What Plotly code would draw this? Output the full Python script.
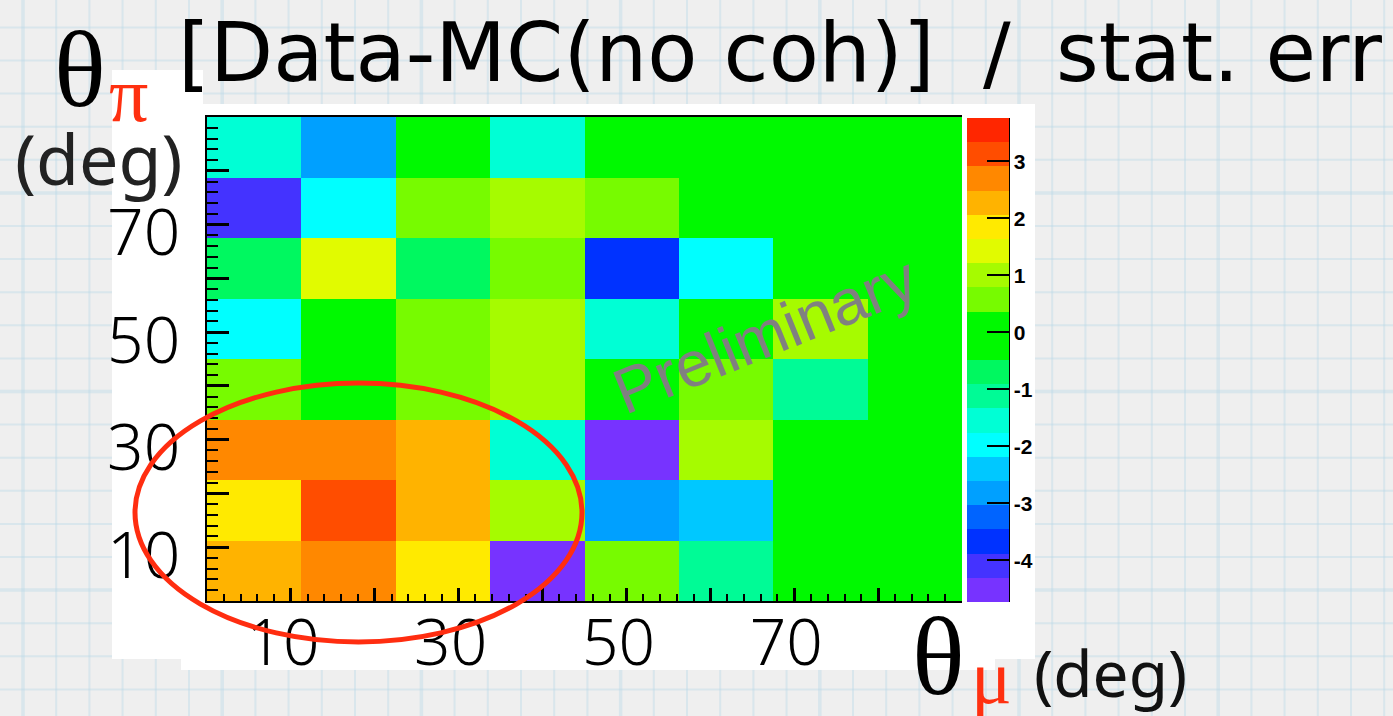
import plotly.graph_objects as go

W, H = 1393, 716

# Bin edges (deg) of the 2D histogram: theta_mu on x, theta_pi on y
theta_mu_edges = [0, 11.25, 22.5, 33.75, 45, 56.25, 67.5, 78.75, 90]
theta_pi_edges = [0, 11.25, 22.5, 33.75, 45, 56.25, 67.5, 78.75, 90]

# [Data - MC(no coh)] / stat. err per bin, one list per theta_pi bin (lowest first)
pull_pi_bin1 = [2.30, 2.70, 1.90, -4.50, 0.60, -1.10, 0.00, 0.00]
pull_pi_bin2 = [1.85, 3.10, 2.25, 1.00, -2.80, -2.40, 0.00, 0.00]
pull_pi_bin3 = [2.70, 2.75, 2.30, -1.50, -4.73, 1.00, 0.00, 0.00]
pull_pi_bin4 = [0.60, -0.20, 0.60, 1.00, 0.20, 0.65, -1.10, 0.00]
pull_pi_bin5 = [-1.90, 0.10, 0.55, 0.95, -1.50, -0.10, 1.05, 0.00]
pull_pi_bin6 = [-0.70, 1.40, -0.65, 0.60, -3.70, -1.95, 0.00, 0.00]
pull_pi_bin7 = [-4.10, -2.00, 0.60, 1.00, 0.55, 0.00, 0.00, 0.00]
pull_pi_bin8 = [-1.50, -2.80, 0.00, -1.55, 0.00, 0.00, 0.00, 0.00]

z_min, z_max = -4.73, 3.76

# 20-level rainbow palette, low to high
palette = [
    "#7733ff", "#4433ff", "#0032ff", "#0064ff", "#00a0ff",
    "#00c8ff", "#00ffff", "#00ffd5", "#00fb96", "#00f860",
    "#00f900", "#00f900", "#77fb00", "#a6fb00", "#e1fb00",
    "#ffea00", "#ffb300", "#ff8800", "#ff4d00", "#ff2600",
]

axis_tickvals = [0, 10, 20, 30, 40, 50, 60, 70, 80, 90]
axis_ticktext = ["", "10", "", "30", "", "50", "", "70", "", ""]
cbar_tickvals = [-4, -3, -2, -1, 0, 1, 2, 3]
cbar_ticktext = ["-4", "-3", "-2", "-1", "0", "1", "2", "3"]

z = [pull_pi_bin1, pull_pi_bin2, pull_pi_bin3, pull_pi_bin4,
     pull_pi_bin5, pull_pi_bin6, pull_pi_bin7, pull_pi_bin8]

# stepped colorscale
n = len(palette)
colorscale = []
for k, c in enumerate(palette):
    colorscale.append([k / n, c])
    colorscale.append([(k + 1) / n, c])


def px(v):
    return v / W


def py(v):
    return 1 - v / H


fig = go.Figure()
fig.add_trace(go.Heatmap(
    x=theta_mu_edges, y=theta_pi_edges, z=z,
    zmin=z_min, zmax=z_max, colorscale=colorscale,
    hoverinfo="skip",
    colorbar=dict(
        x=px(967), xanchor="left", xpad=0, ypad=0,
        y=py(602), yanchor="bottom", len=484, lenmode="pixels",
        thickness=42, thicknessmode="pixels", outlinewidth=0,
        tickvals=cbar_tickvals, ticktext=cbar_ticktext,
        ticks="inside", ticklen=22, tickwidth=2, tickcolor="black",
        tickfont=dict(family="Liberation Sans", size=21, color="black", weight="bold"),
    ),
))

shapes = []
# graph-paper background
grid_col = "rgba(185,218,232,0.42)"
for k in range(0, 42):
    xv = 23 + 33.2 * k
    shapes.append(dict(type="line", xref="paper", yref="paper", layer="below",
                       x0=px(xv), x1=px(xv), y0=0, y1=1,
                       line=dict(color=grid_col, width=3.5 if k % 6 == 0 else 2)))
for k in range(-1, 22):
    yv = 27.4 + 33.1 * k
    shapes.append(dict(type="line", xref="paper", yref="paper", layer="below",
                       x0=0, x1=1, y0=py(yv), y1=py(yv),
                       line=dict(color=grid_col, width=3.5 if k % 6 == 5 else 2)))
# white canvas behind the histogram
for (x0, y0, x1, y1) in [(112, 104, 1035, 659), (181, 659, 995, 670), (112, 70, 203, 104)]:
    shapes.append(dict(type="rect", xref="paper", yref="paper", layer="below",
                       x0=px(x0), x1=px(x1), y0=py(y1), y1=py(y0),
                       fillcolor="white", line=dict(width=0)))
# palette axis line
shapes.append(dict(type="line", xref="paper", yref="paper", layer="above",
                   x0=px(1009), x1=px(1009), y0=py(602), y1=py(118),
                   line=dict(color="black", width=2)))
# highlighted low-angle region
shapes.append(dict(type="circle", xref="paper", yref="paper", layer="above",
                   x0=px(135), x1=px(582), y0=py(642), y1=py(383),
                   line=dict(color="#ff2d10", width=5)))

serif = "Liberation Serif"
sans = "Noto Sans"
red = "#ff3010"
title_font = dict(family="DejaVu Sans", size=82, color="black")

annotations = [
    # title pieces
    dict(text="[Data-MC(no coh)]", x=px(176), y=py(53), xanchor="left", yanchor="middle",
         font=title_font),
    dict(text="/", x=px(997), y=py(53), xanchor="center", yanchor="middle",
         font=title_font),
    dict(text="stat. err", x=px(1054), y=py(53), xanchor="left", yanchor="middle",
         font=title_font),
    # y title
    dict(text="θ", x=px(80), y=py(70), xanchor="center", yanchor="middle",
         font=dict(family=serif, size=108, color="black")),
    dict(text="π", x=px(128), y=py(94), xanchor="center", yanchor="middle",
         font=dict(family=serif, size=78, color=red)),
    dict(text="(deg)", x=px(99), y=py(158), xanchor="center", yanchor="middle",
         font=dict(family=sans, size=70, color="#222222")),
    # x title
    dict(text="θ", x=px(938), y=py(657), xanchor="center", yanchor="middle",
         font=dict(family=serif, size=110, color="black")),
    dict(text="μ", x=px(991), y=py(677), xanchor="center", yanchor="middle",
         font=dict(family=serif, size=76, color=red)),
    dict(text="(deg)", x=px(1110), y=py(672), xanchor="center", yanchor="middle",
         font=dict(family=sans, size=64, color="#111111")),
    # watermark
    dict(text="Preliminary", x=px(765), y=py(335), xanchor="center", yanchor="middle",
         textangle=-22, font=dict(family="Liberation Sans", size=64, color="#808080")),
]
for a in annotations:
    a.update(xref="paper", yref="paper", showarrow=False)

tick_font = dict(family=sans, size=64, color="black", weight=300)

fig.update_layout(
    width=W, height=H,
    margin=dict(l=0, r=0, t=0, b=0, pad=0, autoexpand=False),
    paper_bgcolor="#efefef", plot_bgcolor="white",
    showlegend=False,
    shapes=shapes, annotations=annotations,
    xaxis=dict(
        domain=[px(207), px(962)], range=[0, 90], anchor="y",
        showgrid=False, zeroline=False,
        showline=True, linecolor="black", linewidth=2, mirror=True,
        ticks="inside", ticklen=13, tickwidth=3, tickcolor="black",
        tickvals=axis_tickvals, ticktext=axis_ticktext,
        minor=dict(ticks="inside", dtick=2, ticklen=7, tickwidth=2, tickcolor="black"),
        tickfont=tick_font, ticklabelstandoff=-15, ticklabelshift=-8,
    ),
    yaxis=dict(
        domain=[py(601), py(117)], range=[0, 90], anchor="x",
        showgrid=False, zeroline=False,
        showline=True, linecolor="black", linewidth=2, mirror=False,
        ticks="inside", ticklen=22, tickwidth=3, tickcolor="black",
        tickvals=axis_tickvals, ticktext=axis_ticktext,
        minor=dict(ticks="inside", dtick=2, ticklen=11, tickwidth=2, tickcolor="black"),
        tickfont=tick_font, ticklabelstandoff=12, ticklabelshift=8,
    ),
)

fig.write_html("out.html")
